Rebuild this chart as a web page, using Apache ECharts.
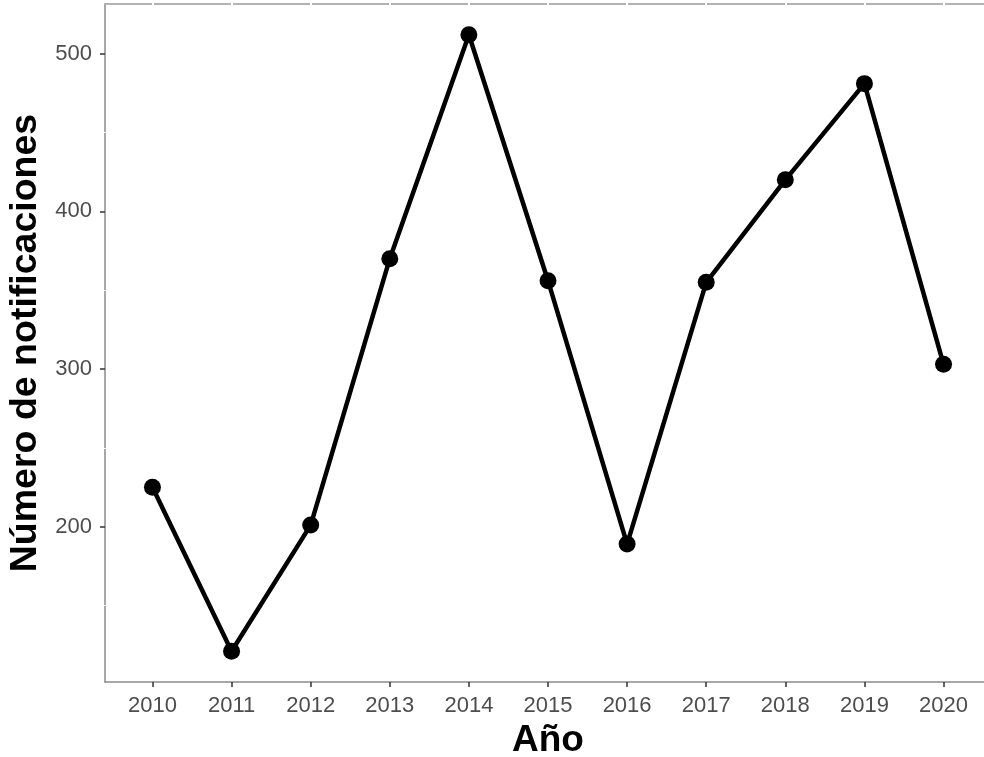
<!DOCTYPE html>
<html>
<head>
<meta charset="utf-8">
<script src="https://cdn.jsdelivr.net/npm/echarts@6/dist/echarts.min.js"></script>
<style>html,body{margin:0;padding:0;background:#fff}#c{width:984px;height:757px}</style>
</head>
<body>
<div id="c"></div>
<script>
const years = [2010, 2011, 2012, 2013, 2014, 2015, 2016, 2017, 2018, 2019, 2020];
const notificaciones = [225, 121, 201, 370, 512, 356, 189, 355, 420, 481, 303];
const yTicks = [200, 300, 400, 500];
const yMinorBreaks = [150, 250, 350, 450];
const xTitle = 'Año';
const yTitle = 'Número de notificaciones';

const FONT = '"Liberation Sans", Arial, sans-serif';
const xMin = years[0] - 0.6, xMax = years[years.length - 1] + 0.6;
const yMin = 101.5, yMax = 531.5;

const chart = echarts.init(document.getElementById('c'), null, {renderer: 'canvas'});
const hidden = {show: false};
chart.setOption({
  animation: false,
  backgroundColor: '#ffffff',
  grid: {left: 105, right: -7, top: 4, bottom: 75, containLabel: false, outerBoundsMode: 'none'},
  xAxis: [
    {
      type: 'value', position: 'bottom', min: xMin, max: xMax,
      name: xTitle, nameLocation: 'middle', nameGap: 38,
      nameTextStyle: {fontFamily: FONT, fontSize: 37, fontWeight: 'bold', color: '#000'},
      axisLine: {show: true, onZero: false, lineStyle: {color: '#8a8a8a', width: 1.5}},
      axisTick: {show: true, length: 5, customValues: years, lineStyle: {color: '#333', width: 1.5}},
      axisLabel: {show: true, customValues: years, margin: 13, fontFamily: FONT, fontSize: 22, color: '#4d4d4d',
        formatter: v => String(Math.round(v))},
      splitLine: hidden
    },
    {
      type: 'value', position: 'top', min: xMin, max: xMax,
      axisLine: {show: true, onZero: false, lineStyle: {color: '#b3b3b3', width: 2}},
      axisTick: {show: true, inside: true, length: 2, customValues: years, lineStyle: {color: '#fff', width: 2}},
      axisLabel: hidden, splitLine: hidden
    },
    {
      type: 'value', position: 'top', min: xMin, max: xMax,
      axisLine: {show: false, onZero: false},
      axisTick: {show: true, inside: false, length: 2, customValues: years, lineStyle: {color: '#fff', width: 2}},
      axisLabel: hidden, splitLine: hidden
    }
  ],
  yAxis: [
    {
      type: 'value', position: 'left', min: yMin, max: yMax,
      name: yTitle, nameLocation: 'middle', nameGap: 57, nameRotate: 90,
      nameTextStyle: {fontFamily: FONT, fontSize: 37.5, fontWeight: 'bold', color: '#000'},
      axisLine: {show: true, onZero: false, lineStyle: {color: '#8a8a8a', width: 1.5}},
      axisTick: {show: true, length: 5, customValues: yTicks, lineStyle: {color: '#333', width: 1.5}},
      axisLabel: {show: true, customValues: yTicks, margin: 13, fontFamily: FONT, fontSize: 22, color: '#4d4d4d'},
      splitLine: hidden
    },
    {
      type: 'value', position: 'left', min: yMin, max: yMax,
      axisLine: {show: false, onZero: false},
      axisTick: {show: true, inside: true, length: 2, customValues: yMinorBreaks, lineStyle: {color: '#fff', width: 1}},
      axisLabel: hidden, splitLine: hidden
    },
    {
      type: 'value', position: 'left', min: yMin, max: yMax,
      axisLine: {show: false, onZero: false},
      axisTick: {show: true, inside: false, length: 2, customValues: yMinorBreaks, lineStyle: {color: '#fff', width: 1}},
      axisLabel: hidden, splitLine: hidden
    }
  ],
  series: [{
    type: 'line',
    xAxisIndex: 0, yAxisIndex: 0,
    data: years.map((y, i) => [y, notificaciones[i]]),
    symbol: 'circle', symbolSize: 17,
    lineStyle: {color: '#000', width: 4.5},
    itemStyle: {color: '#000'},
    z: 5
  }]
});
</script>
</body>
</html>
